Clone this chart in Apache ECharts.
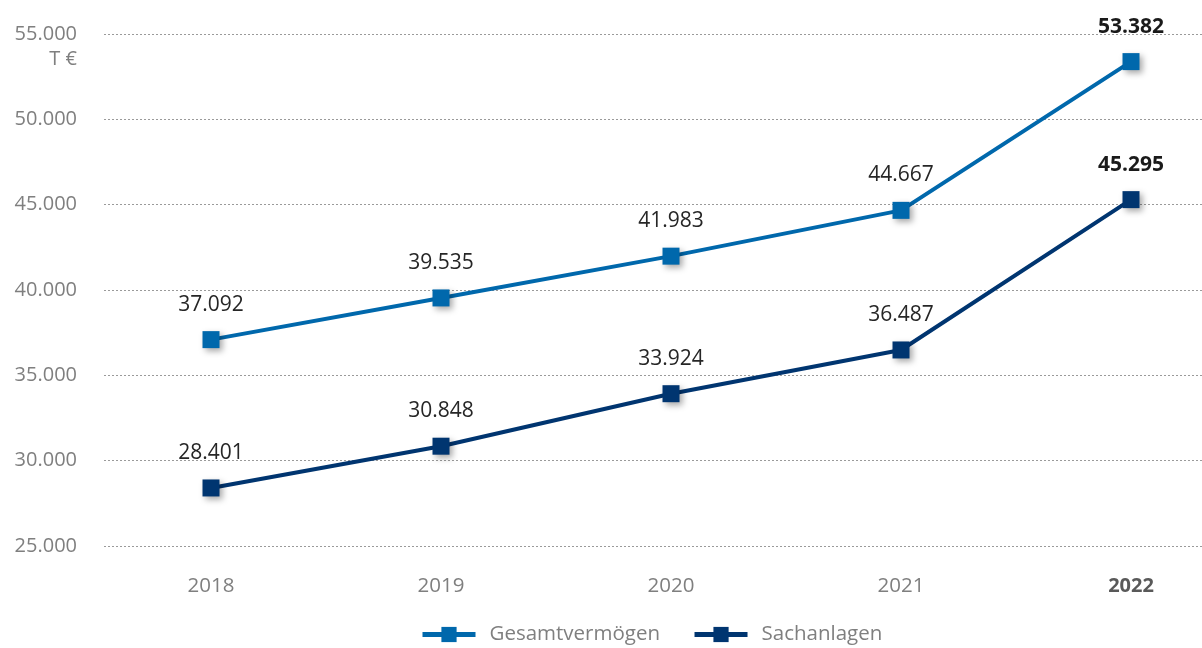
<!DOCTYPE html>
<html>
  <head>
    <meta charset="utf-8" />
    <title>Gesamtvermögen und Sachanlagen</title>
    <script src="https://cdn.jsdelivr.net/npm/echarts@6.0.0/dist/echarts.min.js"></script>
    <style>
      html, body { margin: 0; padding: 0; background: #fff; }
    </style>
  </head>
  <body>
    <div id="main" style="width: 1202px; height: 648px"></div>

    <script type="text/javascript">
      // Daten (T €)
      const years = ['2018', '2019', '2020', '2021', '2022']
      const gesamtvermoegen = [37092, 39535, 41983, 44667, 53382]
      const sachanlagen = [28401, 30848, 33924, 36487, 45295]
      const yTicks = [25000, 30000, 35000, 40000, 45000, 50000, 55000]

      const colGesamt = '#0068ac'
      const colSach = '#003570'
      const font = '"Open Sans", "Noto Sans", sans-serif'

      // Tausenderpunkt wie im Original
      function fmt(v) {
        return String(Math.round(v)).replace(/\B(?=(\d{3})+(?!\d))/g, '.')
      }

      // letztes Jahr fett hervorheben
      function withBold(values) {
        return values.map((v, i) =>
          i === values.length - 1 ? { value: v, label: { fontWeight: 'bold', color: '#1a1a1a' } } : v
        )
      }

      function makeSeries(name, values, color) {
        return {
          name,
          type: 'line',
          xAxisIndex: 1,
          yAxisIndex: 1,
          data: withBold(values),
          symbol: 'rect',
          symbolSize: 17,
          lineStyle: { color, width: 4 },
          itemStyle: {
            color,
            shadowColor: 'rgba(0,0,0,0.35)',
            shadowBlur: 6,
            shadowOffsetX: 3,
            shadowOffsetY: 3,
          },
          label: {
            show: true,
            position: 'top',
            distance: 16,
            fontFamily: font,
            fontSize: 21,
            color: '#262626',
            formatter: (p) => fmt(p.value),
          },
          emphasis: { disabled: true },
          z: 3,
        }
      }

      const yMin = yTicks[0]
      const yMax = yTicks[yTicks.length - 1]

      var myChart = echarts.init(document.getElementById('main'))

      option = {
        animation: false,
        textStyle: { fontFamily: font },
        grid: [
          // Hintergrund-Raster mit Achsenbeschriftung
          { left: 104, right: 0, top: 34, bottom: 102, outerBoundsMode: 'none' },
          // Datenbereich (reicht rechts über den Rand hinaus)
          { left: 96, right: -44, top: 34, bottom: 102, outerBoundsMode: 'none' },
        ],
        legend: {
          bottom: 3,
          left: 420,
          padding: 0,
          itemWidth: 53,
          itemHeight: 19,
          itemGap: 32,
          lineStyle: { width: 5 },
          textStyle: { fontFamily: font, fontSize: 20.5, color: '#7f7f7f', padding: [0, 0, 0, 9] },
          data: ['Gesamtvermögen', 'Sachanlagen'],
        },
        xAxis: [
          { gridIndex: 0, type: 'value', min: 0, max: 1, show: false },
          {
            gridIndex: 1,
            type: 'category',
            data: years,
            boundaryGap: true,
            axisLine: { show: false },
            axisTick: { show: false },
            axisLabel: {
              margin: 30,
              fontFamily: font,
              fontSize: 20.5,
              color: '#7f7f7f',
              formatter: (v, i) => (i === years.length - 1 ? '{b|' + v + '}' : v),
              rich: { b: { fontWeight: 'bold', color: '#595959', fontSize: 20, fontFamily: font } },
            },
          },
        ],
        yAxis: [
          {
            gridIndex: 0,
            type: 'value',
            min: yMin,
            max: yMax,
            interval: 5000,
            name: 'T €',
            nameLocation: 'end',
            nameGap: -25,
            nameTextStyle: {
              fontFamily: font,
              fontSize: 20,
              color: '#7f7f7f',
              align: 'right',
              verticalAlign: 'middle',
              padding: [0, 27, 0, 0],
            },
            axisLine: { show: false },
            axisTick: { show: false },
            axisLabel: {
              margin: 27,
              fontFamily: font,
              fontSize: 20,
              color: '#7f7f7f',
              formatter: (v) => fmt(v),
            },
            splitLine: { show: true, lineStyle: { color: '#9a9a9a', type: [2, 2], width: 1 } },
          },
          { gridIndex: 1, type: 'value', min: yMin, max: yMax, show: false, splitLine: { show: false } },
        ],
        series: [
          makeSeries('Gesamtvermögen', gesamtvermoegen, colGesamt),
          makeSeries('Sachanlagen', sachanlagen, colSach),
        ],
      }

      myChart.setOption(option)
    </script>
  </body>
</html>
